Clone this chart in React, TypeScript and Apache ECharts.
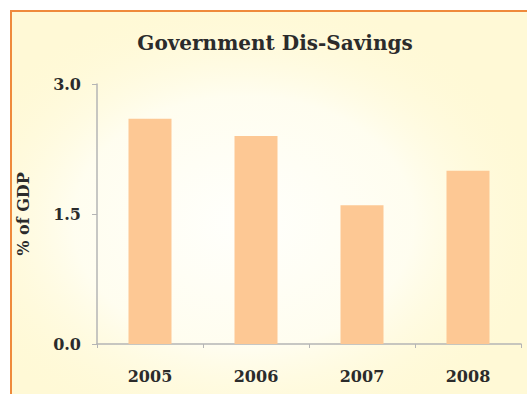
import React, { useEffect, useRef } from "react";
import * as echarts from "echarts";

const categories = ["2005", "2006", "2007", "2008"];
const values = [2.6, 2.4, 1.6, 2.0];
const titleText = "Government Dis-Savings";
const yAxisName = "% of GDP";

const FONT = "'DejaVu Serif', serif";

export default function App() {
  const ref = useRef<HTMLDivElement>(null);
  useEffect(() => {
    if (!ref.current) return;
    const chart = echarts.init(ref.current, null, { renderer: "svg" });
    chart.setOption({
      animation: false,
      backgroundColor: "#ffffff",
      graphic: [
        {
          type: "rect",
          z: -10,
          silent: true,
          shape: { x: 11, y: 11, width: 516, height: 383 },
          style: { fill: "#fff9d6" },
        },
        {
          type: "rect",
          z: -9,
          silent: true,
          shape: { x: 12, y: 12, width: 515, height: 382 },
          style: {
            fill: new echarts.graphic.RadialGradient(0.45, 0.55, 0.6, [
              { offset: 0, color: "rgba(255,255,252,1)" },
              { offset: 0.55, color: "rgba(255,254,244,0.85)" },
              { offset: 1, color: "rgba(255,249,214,0)" },
            ]),
          },
        },
        {
          type: "line",
          z: -8,
          silent: true,
          shape: { x1: 10, y1: 11, x2: 527, y2: 11 },
          style: { stroke: "#ef8a3c", lineWidth: 2 },
        },
        {
          type: "line",
          z: -8,
          silent: true,
          shape: { x1: 11, y1: 10, x2: 11, y2: 394 },
          style: { stroke: "#ef8a3c", lineWidth: 2 },
        },
        {
          type: "text",
          x: 275,
          y: 43,
          style: {
            text: titleText,
            font: "bold 20px " + FONT,
            fill: "#2b2b2b",
            textAlign: "center",
            textVerticalAlign: "middle",
          },
        },
      ],
      grid: { left: 97, right: 6, top: 84, bottom: 50, containLabel: false },
      xAxis: {
        type: "category",
        data: categories,
        axisLine: { lineStyle: { color: "#b5b5b5", width: 1.5 } },
        axisTick: { show: true, length: 4, lineStyle: { color: "#b5b5b5" } },
        axisLabel: {
          margin: 24,
          fontFamily: FONT,
          fontWeight: "bold",
          fontSize: 16,
          color: "#2b2b2b",
        },
      },
      yAxis: {
        type: "value",
        min: 0,
        max: 3,
        interval: 1.5,
        name: yAxisName,
        nameLocation: "middle",
        nameRotate: 90,
        nameGap: 66,
        nameTextStyle: {
          fontFamily: FONT,
          fontWeight: "bold",
          fontSize: 16,
          color: "#2b2b2b",
        },
        splitLine: { show: false },
        axisLine: { show: true, lineStyle: { color: "#b5b5b5", width: 1.5 } },
        axisTick: { show: true, length: 5, lineStyle: { color: "#b5b5b5" } },
        axisLabel: {
          margin: 16,
          formatter: (v: number) => v.toFixed(1),
          fontFamily: FONT,
          fontWeight: "bold",
          fontSize: 16,
          color: "#2b2b2b",
        },
      },
      series: [
        {
          type: "bar",
          data: values,
          barWidth: 43,
          itemStyle: { color: "#fdc894" },
        },
      ],
    });
    return () => chart.dispose();
  }, []);
  return (
    <div
      ref={ref}
      style={{ position: "fixed", left: 0, top: 0, width: 527, height: 394 }}
    />
  );
}
